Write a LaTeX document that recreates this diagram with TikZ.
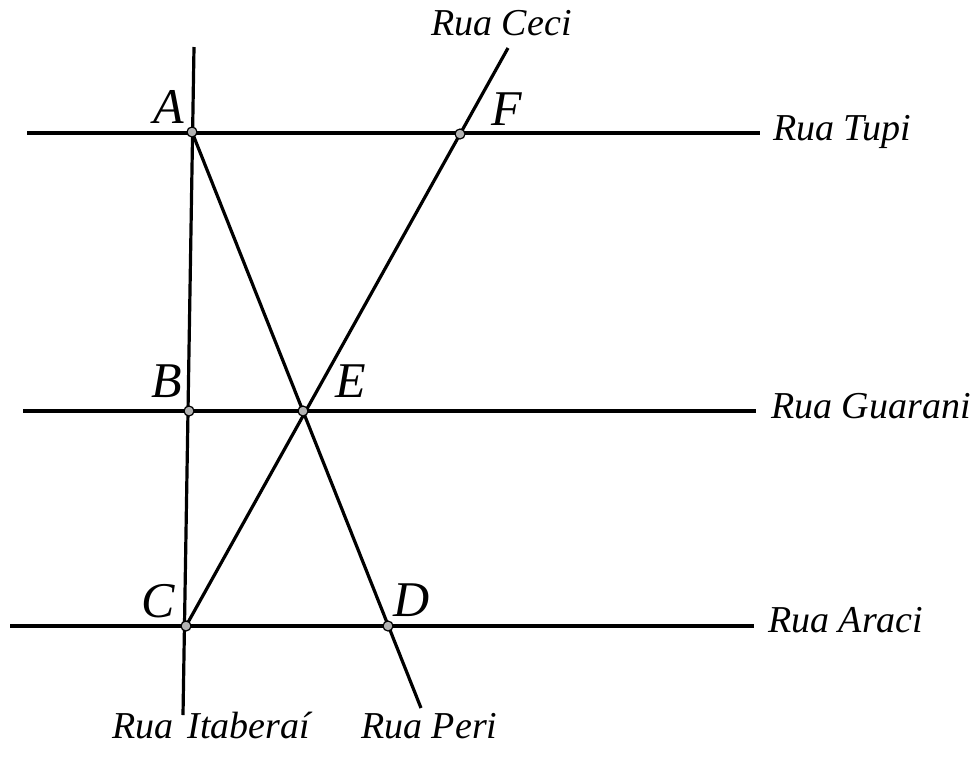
\documentclass[tikz,border=0pt]{standalone}
\usepackage{fontspec}
\setmainfont{Liberation Serif}
\begin{document}
\begin{tikzpicture}[x=1pt,y=-1pt,
  street/.style={line width=3.2pt},
  pt/.style={circle,draw=black,fill=gray!60,line width=1.2pt,minimum size=10pt,inner sep=0pt},
  ptlabel/.style={anchor=base west,inner sep=0pt,font=\fontsize{50}{54}\selectfont\itshape},
  stlabel/.style={anchor=base west,inner sep=0pt,font=\fontsize{38}{41}\selectfont\itshape}]
\useasboundingbox (0,0) rectangle (979,756);
% intersection points
\coordinate (A) at (192,132);
\coordinate (B) at (189,411);
\coordinate (C) at (186,626);
\coordinate (F) at (460,134);
\coordinate (E) at (303,411);
\coordinate (D) at (388,626);
% free ends
\coordinate (ItTop) at (194,47);
\coordinate (ItBot) at (183,715);
\coordinate (CeciTop) at (508,48);
\coordinate (PeriBot) at (421,708);
\coordinate (TupiL) at (27,133);
\coordinate (TupiR) at (760,133);
\coordinate (GuaL) at (23,411);
\coordinate (GuaR) at (756,411);
\coordinate (AraL) at (10,626);
\coordinate (AraR) at (754,626);
% streets
\draw[street] (TupiL) -- (TupiR);
\draw[street] (GuaL) -- (GuaR);
\draw[street] (AraL) -- (AraR);
\draw[street] (ItTop) -- (ItBot);
\draw[street] (C) -- (CeciTop);
\draw[street] (A) -- (PeriBot);
% dots
\foreach \p in {A,B,C,D,E,F} \node[pt] (dot\p) at (\p) {};
% point labels
\node[ptlabel] (lA) at (153,123) {A};
\node[ptlabel] (lF) at (491,125) {F};
\node[ptlabel] (lB) at (151,397) {B};
\node[ptlabel] (lE) at (335,397) {E};
\node[ptlabel] (lC) at (141,617) {C};
\node[ptlabel] (lD) at (393,616) {D};
% street labels
\node[stlabel] (sCeci) at (431,35) {Rua Ceci};
\node[stlabel] (sTupi) at (773,140) {Rua Tupi};
\node[stlabel] (sGua) at (771,418) {Rua Guarani};
\node[stlabel] (sAra) at (768,632) {Rua Araci};
\node[stlabel] (sIta) at (112,738) {Rua\hspace{14pt}Itaberaí};
\node[stlabel] (sPeri) at (361,738) {Rua Peri};
\end{tikzpicture}
\end{document}
